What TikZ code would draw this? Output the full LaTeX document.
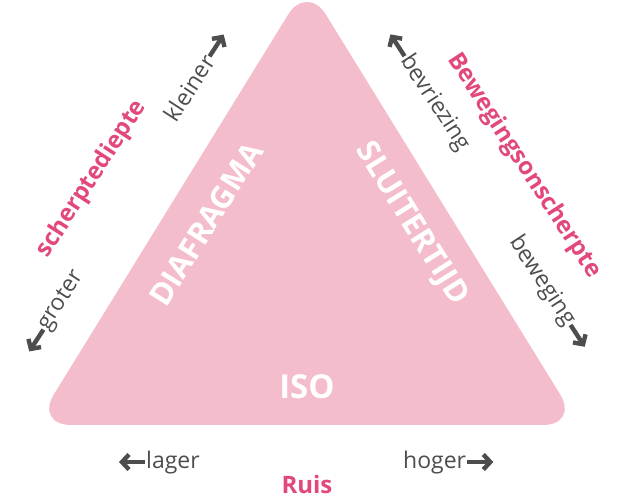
\documentclass[tikz,border=0pt]{standalone}
\usepackage{fontspec}
\setmainfont{Open Sans}
\usetikzlibrary{arrows.meta,calc}
\definecolor{driehoek}{RGB}{244,189,204}
\definecolor{roze}{RGB}{226,72,125}
\definecolor{grijs}{RGB}{77,77,77}
\tikzset{
  hoek/.style={font=\fontsize{31}{31}\selectfont\bfseries, text=white, inner sep=0pt},
  kop/.style={font=\fontsize{24}{24}\selectfont\bfseries, text=roze, inner sep=0pt},
  richting/.style={font=\fontsize{23}{23}\selectfont, text=grijs, inner sep=1pt},
  pijl/.style={draw=grijs, line width=4.4pt, -{Straight Barb[length=7pt,width=15pt]}}
}
\begin{document}
\begin{tikzpicture}[x=1pt,y=1pt]
\useasboundingbox (0,0) rectangle (620,500);

% driehoek
\fill[driehoek, rounded corners=36pt] (307,75) -- (579,75) -- (307,516) -- (35,75) -- cycle;

% hoeken
\node[hoek, rotate=58] (diafragma) at (206,276) {DIAFRAGMA};
\node[hoek, rotate=-58] (sluitertijd) at (411,276) {SLUITERTIJD};
\node[hoek, font=\fontsize{33}{33}\selectfont\bfseries, anchor=base] (iso) at (307,101) {ISO};

% links: scherptediepte
\node[kop, rotate=57] (scherpte) at (92,321) {scherptediepte};
\node[richting, rotate=57] (kleiner) at (189,412) {kleiner};
\node[richting, rotate=57] (groter) at (62,199) {groter};
\coordinate (kleinerpunt) at ($(kleiner.east)+(57:26)$);
\coordinate (groterpunt) at ($(groter.west)+(237:26)$);
\draw[pijl] (kleiner.east) -- (kleinerpunt);
\draw[pijl] (groter.west) -- (groterpunt);

% rechts: bewegingsonscherpte
\node[kop, rotate=-57] (beweging) at (524,334) {Bewegingsonscherpte};
\node[richting, rotate=-57] (bevriezing) at (435,397) {bevriezing};
\node[richting, rotate=-57] (bewegen) at (542,219) {beweging};
\coordinate (bevriezingpunt) at ($(bevriezing.west)+(123:26)$);
\coordinate (bewegenpunt) at ($(bewegen.east)+(-57:26)$);
\draw[pijl] (bevriezing.west) -- (bevriezingpunt);
\draw[pijl] (bewegen.east) -- (bewegenpunt);

% onder: ruis
\node[kop, anchor=base] (ruis) at (307,7) {Ruis};
\node[richting, anchor=base west] (lager) at (145,32) {lager};
\node[richting, anchor=base west] (hoger) at (402,32) {hoger};
\coordinate (lagerpunt) at ($(lager.west)+(-26,0)$);
\coordinate (hogerpunt) at ($(hoger.east)+(26,0)$);
\draw[pijl] (lager.west) -- (lagerpunt);
\draw[pijl] (hoger.east) -- (hogerpunt);
\end{tikzpicture}
\end{document}
